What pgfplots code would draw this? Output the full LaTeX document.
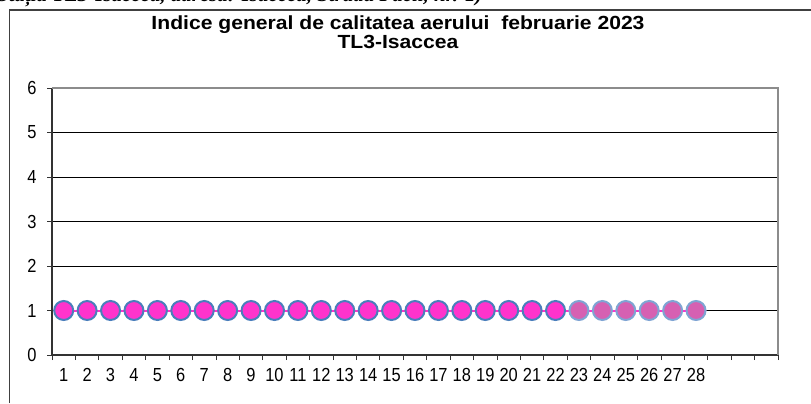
\documentclass[border=0pt]{standalone}
\usepackage{pgfplots}
\pgfplotsset{compat=1.18}
\usepackage{fontspec}
\setmainfont{Liberation Sans}
\newfontfamily\timesf{Liberation Serif}
\definecolor{pinkA}{HTML}{FF33CC}
\definecolor{pinkB}{HTML}{D660B2}
\definecolor{edgeA}{HTML}{4A7EBB}
\definecolor{edgeB}{HTML}{7FA4D3}
\begin{document}
\begin{tikzpicture}[x=1bp,y=1bp]
\path[use as bounding box] (0,0) rectangle (811,403);
\begin{scope}
\clip (0,393) rectangle (811,403);
\node[anchor=base west, inner sep=0, font=\timesf\bfseries\itshape\fontsize{21}{24}\selectfont] at (-3,401) {Stația TL3-Isaccea, adresa: Isaccea, Strada Păcii, nr. 1)};
\end{scope}
\draw[black!75, line width=1.2bp] (9.5,0) -- (9.5,393) -- (811,393);
\node[anchor=base, inner sep=0, yscale=0.9, font=\bfseries\fontsize{21.2}{21.2}\selectfont] at (398,373) {Indice general de calitatea aerului\ \ februarie 2023};
\node[anchor=base, inner sep=0, yscale=0.9, font=\bfseries\fontsize{21.2}{21.2}\selectfont] at (398,355) {TL3-Isaccea};
\begin{axis}[
  at={(52bp,48bp)}, anchor=south west, scale only axis,
  width=726bp, height=267bp,
  xmin=0.5, xmax=31.5, ymin=0, ymax=6,
  axis x line*=bottom, axis y line*=left,
  axis line style={black!80, line width=1.5bp},
  tick align=outside,
  xtick={0.5,1.5,...,31.5}, xticklabels={},
  extra x ticks={1,...,28},
  extra x tick style={major tick length=0pt, tick style={draw=none}, xticklabel style={yshift=-8bp}},
  ytick={0,...,6},
  yticklabel style={xshift=-7bp},
  major tick length=5bp,
  tick style={black!80, line width=0.8bp},
  ymajorgrids, grid style={black, line width=0.8bp},
  ticklabel style={font=\fontsize{16.5}{16.5}\selectfont, yscale=1.15},
  /pgf/number format/assume math mode=true,
  clip=false,
]
\addplot[pinkA, line width=2bp, no marks] coordinates {
(1,1) (2,1) (3,1) (4,1) (5,1) (6,1) (7,1) (8,1) (9,1) (10,1) (11,1) (12,1) (13,1) (14,1)
(15,1) (16,1) (17,1) (18,1) (19,1) (20,1) (21,1) (22,1) (23,1) (24,1) (25,1) (26,1) (27,1) (28,1)};
\addplot[only marks, mark=*, mark size=9.5bp, mark options={fill=pinkA, draw=edgeA, line width=2bp}] coordinates {
(1,1) (2,1) (3,1) (4,1) (5,1) (6,1) (7,1) (8,1) (9,1) (10,1) (11,1) (12,1) (13,1) (14,1)
(15,1) (16,1) (17,1) (18,1) (19,1) (20,1) (21,1) (22,1)};
\addplot[only marks, mark=*, mark size=9.5bp, mark options={fill=pinkB, draw=edgeB, line width=2bp}] coordinates {
(23,1) (24,1) (25,1) (26,1) (27,1) (28,1)};
\draw[black!45, line width=1.2bp] (rel axis cs:0,1) -- (rel axis cs:1,1) -- (rel axis cs:1,0);
\end{axis}
\end{tikzpicture}
\end{document}
